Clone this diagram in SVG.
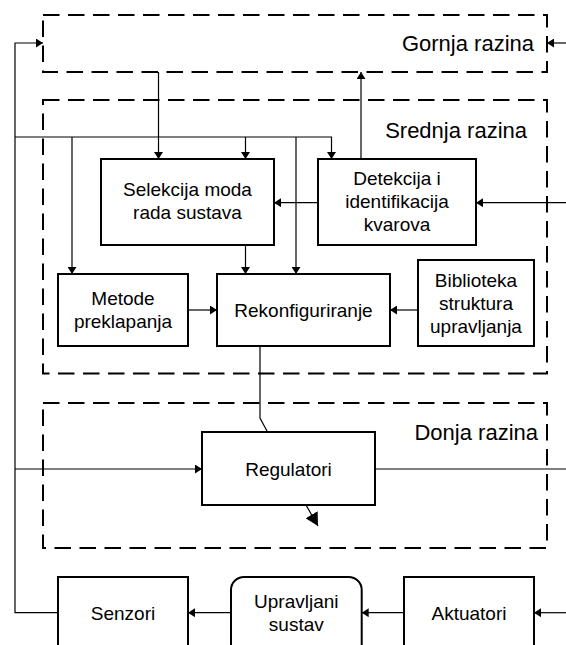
<svg xmlns="http://www.w3.org/2000/svg" width="566" height="645" viewBox="0 0 566 645">
  <style>
    .level { fill: none; stroke: #000; stroke-width: 2; stroke-dasharray: 16.5 8.5; }
    .box { fill: #fff; stroke: #000; stroke-width: 2; }
    .wire { fill: none; stroke: #000; stroke-width: 1.2; }
    .arr { marker-end: url(#ah); }
    .lbl { font-family: "Liberation Sans", Arial, sans-serif; font-size: 19px; fill: #000; text-anchor: middle; }
    .lvl { font-family: "Liberation Sans", Arial, sans-serif; font-size: 22px; fill: #000; text-anchor: end; }
  </style>
  <defs>
    <marker id="ah" markerWidth="8" markerHeight="9" refX="7" refY="4.5" orient="auto" markerUnits="userSpaceOnUse">
      <path d="M0,0 L7,4.5 L0,9 z" fill="#000"/>
    </marker>
    <marker id="ahBig" markerWidth="14" markerHeight="14" refX="13" refY="7" orient="auto" markerUnits="userSpaceOnUse">
      <path d="M0,0 L13,7 L0,14 z" fill="#000"/>
    </marker>
  </defs>

  <rect width="566" height="645" fill="#fff"/>

  <!-- level containers -->
  <g id="gornja-razina">
    <rect class="level" x="43" y="15" width="504" height="57"/>
    <text class="lvl" x="534" y="51">Gornja razina</text>
  </g>
  <g id="srednja-razina">
    <rect class="level" x="43" y="100" width="504" height="273.5"/>
    <text class="lvl" x="527" y="138">Srednja razina</text>
  </g>
  <g id="donja-razina">
    <rect class="level" x="43" y="403" width="504" height="145"/>
    <text class="lvl" x="538" y="440">Donja razina</text>
  </g>

  <!-- connectors -->
  <g id="connectors">
    <!-- sensor feedback to top level -->
    <polyline class="wire arr" points="58,612.7 15,612.7 15,43 43,43"/>
    <line class="wire arr" x1="566" y1="43" x2="547" y2="43"/>
    <line class="wire arr" x1="158.5" y1="72" x2="158.5" y2="159"/>
    <line class="wire arr" x1="361" y1="159" x2="361" y2="72"/>
    <!-- feedback bus in the middle level -->
    <polyline class="wire arr" points="15,137 331.5,137 331.5,159"/>
    <line class="wire arr" x1="72" y1="137" x2="72" y2="274"/>
    <line class="wire arr" x1="245.5" y1="137" x2="245.5" y2="159"/>
    <line class="wire arr" x1="296" y1="137" x2="296" y2="274"/>
    <line class="wire arr" x1="318" y1="202.7" x2="274" y2="202.7"/>
    <line class="wire arr" x1="566" y1="202.7" x2="476" y2="202.7"/>
    <line class="wire arr" x1="245.5" y1="245" x2="245.5" y2="274"/>
    <line class="wire arr" x1="188" y1="310" x2="217" y2="310"/>
    <line class="wire arr" x1="418" y1="310" x2="390" y2="310"/>
    <!-- reconfiguration switch into the controllers -->
    <polyline class="wire" points="260,346 260,418 267.5,432"/>
    <line class="wire arr" x1="15" y1="469" x2="202" y2="469"/>
    <line class="wire" x1="375" y1="469" x2="566" y2="469"/>
    <line class="wire" stroke-width="1.6" x1="306" y1="505" x2="318" y2="526" marker-end="url(#ahBig)"/>
    <!-- process chain -->
    <line class="wire arr" x1="231" y1="612.7" x2="188" y2="612.7"/>
    <line class="wire arr" x1="404" y1="612.7" x2="361.7" y2="612.7"/>
    <line class="wire arr" x1="566" y1="612.7" x2="534" y2="612.7"/>
  </g>

  <!-- middle level blocks -->
  <g id="selekcija">
    <rect class="box" x="101" y="159" width="173" height="86"/>
    <text class="lbl" x="187.5" y="196">Selekcija moda</text>
    <text class="lbl" x="187.5" y="219">rada sustava</text>
  </g>
  <g id="detekcija">
    <rect class="box" x="318" y="159" width="158" height="86"/>
    <text class="lbl" x="397" y="185">Detekcija i</text>
    <text class="lbl" x="397" y="208">identifikacija</text>
    <text class="lbl" x="397" y="231">kvarova</text>
  </g>
  <g id="metode">
    <rect class="box" x="58" y="274" width="130" height="72"/>
    <text class="lbl" x="123" y="305">Metode</text>
    <text class="lbl" x="123" y="328">preklapanja</text>
  </g>
  <g id="rekonfiguriranje">
    <rect class="box" x="217" y="274" width="173" height="72"/>
    <text class="lbl" x="303.5" y="317">Rekonfiguriranje</text>
  </g>
  <g id="biblioteka">
    <rect class="box" x="418" y="260" width="116" height="86"/>
    <text class="lbl" x="476" y="287">Biblioteka</text>
    <text class="lbl" x="476" y="310">struktura</text>
    <text class="lbl" x="476" y="333">upravljanja</text>
  </g>

  <!-- lower level -->
  <g id="regulatori">
    <rect class="box" x="202" y="432" width="173" height="73"/>
    <text class="lbl" x="288.5" y="476">Regulatori</text>
  </g>

  <!-- plant -->
  <g id="senzori">
    <rect class="box" x="58" y="577" width="130" height="90"/>
    <text class="lbl" x="123" y="619.5">Senzori</text>
  </g>
  <g id="upravljani-sustav">
    <rect class="box" x="231" y="577" width="130.7" height="90" rx="13" ry="13"/>
    <text class="lbl" x="296.3" y="608">Upravljani</text>
    <text class="lbl" x="296.3" y="631">sustav</text>
  </g>
  <g id="aktuatori">
    <rect class="box" x="404" y="577" width="130" height="90"/>
    <text class="lbl" x="469" y="619.5">Aktuatori</text>
  </g>
</svg>
